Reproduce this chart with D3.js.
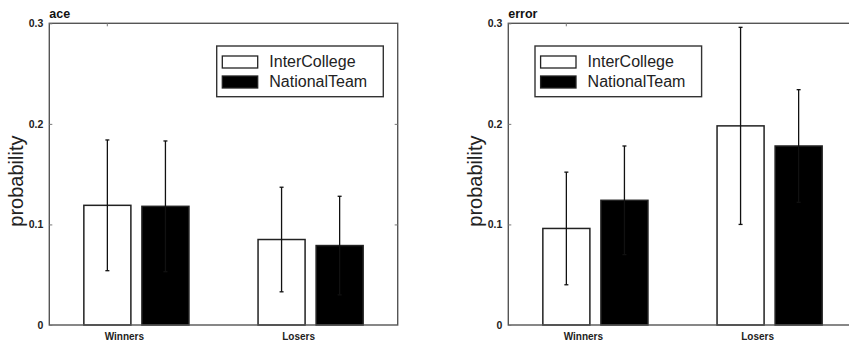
<!DOCTYPE html>
<html><head><meta charset="utf-8">
<script src="https://cdn.jsdelivr.net/npm/d3@7"></script>
<style>
body{margin:0;background:#fff;}
svg{display:block;font-family:"Liberation Sans",Arial,sans-serif;}
</style></head>
<body><svg id="c" width="849" height="343"></svg>
<script>
const categories = ["Winners", "Losers"];
const seriesNames = ["InterCollege", "NationalTeam"];
const yTickValues = [0, 0.1, 0.2, 0.3];
const yTickLabels = ["0", "0.1", "0.2", "0.3"];

const aceInterCollege = [0.119, 0.085];
const aceInterCollegeErr = [0.065, 0.052];
const aceNationalTeam = [0.118, 0.079];
const aceNationalTeamErr = [0.065, 0.049];

const errorInterCollege = [0.096, 0.198];
const errorInterCollegeErr = [0.056, 0.098];
const errorNationalTeam = [0.124, 0.178];
const errorNationalTeamErr = [0.054, 0.056];

const panels = [
  {title: "ace", left: 49.3, legendX: 216.7,
   means: [aceInterCollege, aceNationalTeam], errs: [aceInterCollegeErr, aceNationalTeamErr]},
  {title: "error", left: 508.3, legendX: 535,
   means: [errorInterCollege, errorNationalTeam], errs: [errorInterCollegeErr, errorNationalTeamErr]}
];

const svg = d3.select("#c");
const W = 348.4, plotTop = 23.3, plotBottom = 325;
const fills = ["#fff", "#000"];

const y = d3.scaleLinear().domain([0, 0.3]).range([plotBottom, plotTop]);
const x = d3.scaleBand().domain(categories).range([0, W]).padding(0);
const xs = d3.scaleBand().domain(seriesNames).range([0, x.bandwidth()])
  .paddingInner(0.19).paddingOuter(0.595);

panels.forEach(p => {
  const g = svg.append("g").attr("transform", `translate(${p.left},0)`);

  // bars
  p.means.forEach((vals, si) => {
    const sname = seriesNames[si];
    g.selectAll(null).data(categories).enter().append("rect")
      .attr("x", c => x(c) + xs(sname))
      .attr("y", (c, i) => y(vals[i]))
      .attr("width", xs.bandwidth())
      .attr("height", (c, i) => y(0) - y(vals[i]))
      .attr("fill", fills[si]).attr("stroke", "#222").attr("stroke-width", 1.5);
  });
  // error bars
  p.means.forEach((vals, si) => {
    const sname = seriesNames[si];
    const errs = p.errs[si];
    const cx = c => x(c) + xs(sname) + xs.bandwidth() / 2;
    const eg = g.selectAll(null).data(categories).enter().append("g");
    eg.append("line")
      .attr("x1", cx).attr("x2", cx)
      .attr("y1", (c, i) => y(vals[i] + errs[i]))
      .attr("y2", (c, i) => y(vals[i] - errs[i]))
      .attr("stroke", "#111").attr("stroke-width", 1.3);
    [1, -1].forEach(sg => {
      eg.append("line")
        .attr("x1", c => cx(c) - 2).attr("x2", c => cx(c) + 2)
        .attr("y1", (c, i) => y(vals[i] + sg * errs[i]))
        .attr("y2", (c, i) => y(vals[i] + sg * errs[i]))
        .attr("stroke", "#111").attr("stroke-width", 1.3);
    });
  });

  // frame
  g.append("rect").attr("x", 0).attr("y", plotTop).attr("width", W).attr("height", plotBottom - plotTop)
    .attr("fill", "none").attr("stroke", "#555").attr("stroke-width", 1.4);

  // y axis
  const ya = g.append("g").call(d3.axisLeft(y).tickValues(yTickValues)
      .tickFormat((d, i) => yTickLabels[i]).tickSizeInner(-3).tickSizeOuter(0).tickPadding(6));
  ya.select(".domain").remove();
  ya.selectAll(".tick line").attr("stroke", "#777");
  ya.selectAll("text").attr("font-size", 10.5).attr("font-weight", "bold").attr("fill", "#222");
  // right inward ticks
  const yr = g.append("g").attr("transform", `translate(${W},0)`)
    .call(d3.axisRight(y).tickValues(yTickValues.slice(1, 3)).tickSizeInner(-3).tickFormat(""));
  yr.select(".domain").remove();
  yr.selectAll(".tick line").attr("stroke", "#777");
  // small top tick
  g.append("line").attr("x1", 58).attr("x2", 58).attr("y1", plotTop).attr("y2", plotTop + 3)
    .attr("stroke", "#777");

  // x labels
  g.selectAll(null).data(categories).enter().append("text")
    .attr("x", c => x(c) + x.bandwidth() / 2 - 12)
    .attr("y", 340).attr("text-anchor", "middle")
    .attr("font-size", 10).attr("font-weight", "bold").attr("fill", "#222")
    .text(c => c);

  // title
  g.append("text").attr("x", 0).attr("y", 18).attr("font-size", 12.5)
    .attr("font-weight", "bold").attr("fill", "#111").text(p.title);

  // y label
  g.append("text").attr("transform", `translate(-26,${(plotTop + plotBottom) / 2 + 7}) rotate(-90)`)
    .attr("text-anchor", "middle").attr("font-size", 20).attr("fill", "#222")
    .text("probability");

  // legend
  const lg = svg.append("g").attr("transform", `translate(${p.legendX},46)`);
  lg.append("rect").attr("width", 166.6).attr("height", 50.7)
    .attr("fill", "#fff").attr("stroke", "#333").attr("stroke-width", 1.4);
  seriesNames.forEach((s, i) => {
    lg.append("rect").attr("x", 5.6).attr("y", 10 + i * 20).attr("width", 35.4).attr("height", 12)
      .attr("fill", fills[i]).attr("stroke", "#222").attr("stroke-width", 1.3);
    lg.append("text").attr("x", 52.6).attr("y", 21 + i * 19.5).attr("font-size", 16)
      .attr("fill", "#222").text(s);
  });
});
</script></body></html>
